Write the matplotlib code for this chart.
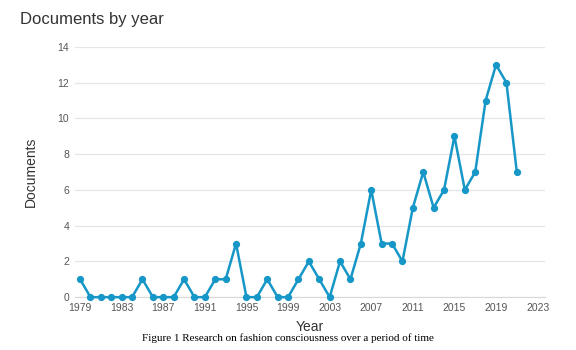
# documents per year line chart -> out.png
import matplotlib.pyplot as plt

plt.rcParams["font.family"] = ["Liberation Sans", "DejaVu Sans"]

years = list(range(1979, 2022))
documents = [1, 0, 0, 0, 0, 0, 1, 0, 0, 0,
             1, 0, 0, 1, 1, 3, 0, 0, 1, 0,
             0, 1, 2, 1, 0, 2, 1, 3, 6, 3,
             3, 2, 5, 7, 5, 6, 9, 6, 7, 11,
             13, 12, 7]
xticks = list(range(1979, 2024, 4))
yticks = list(range(0, 15, 2))

line_color = "#1697c7"
text_color = "#555555"

fig = plt.figure(figsize=(5.76, 3.5), dpi=100)
ax = fig.add_axes([0.130, 0.151, 0.816, 0.715])

ax.plot(years, documents, color=line_color, lw=1.8, marker="o", ms=4.2,
        clip_on=False, zorder=3)

ax.set_xlim(1978.5, 2023.7)
ax.set_ylim(0, 14)
ax.set_xticks(xticks)
ax.set_yticks(yticks)
ax.tick_params(length=0, labelsize=7.5, colors=text_color, pad=4)
ax.grid(axis="y", color="#e6e6e6", lw=0.9)
ax.set_axisbelow(True)
for side in ["top", "right", "left"]:
    ax.spines[side].set_visible(False)
ax.spines["bottom"].set_color("#d8d8d8")

ax.set_ylabel("Documents", fontsize=10, color="#333333", labelpad=14)
ax.set_xlabel("Year", fontsize=10, color="#333333", labelpad=5)

fig.text(0.035, 0.945, "Documents by year", fontsize=12, color="#333333",
         va="center")
fig.text(0.5, 0.033, "Figure 1 Research on fashion consciousness over a period of time",
         fontsize=8, family="Liberation Serif", ha="center", va="center")

fig.savefig("out.png", dpi=100)
